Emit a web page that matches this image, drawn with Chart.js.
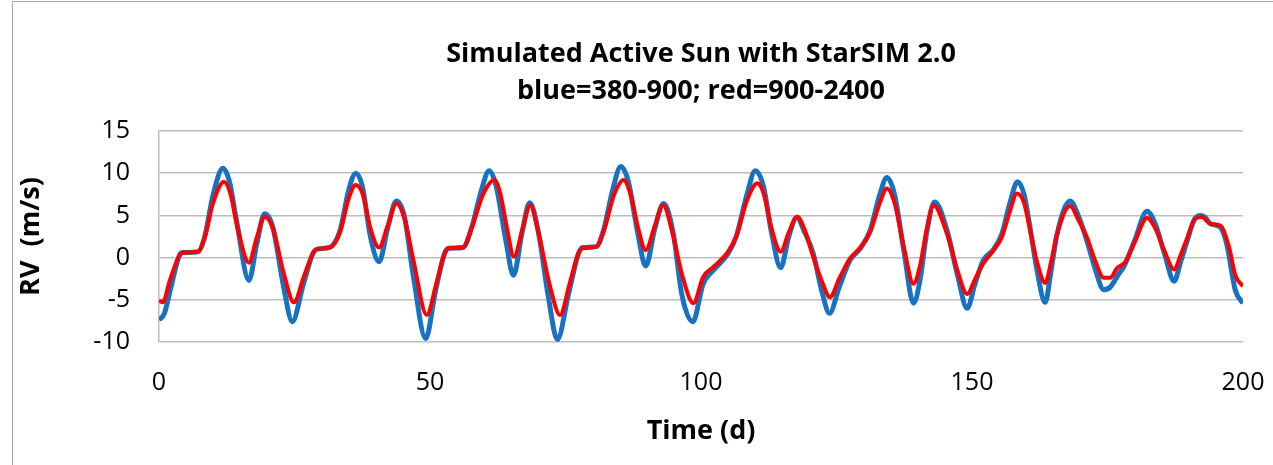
<!DOCTYPE html>
<html>
<head>
<meta charset="utf-8">
<script src="https://cdn.jsdelivr.net/npm/chart.js@4.4.1/dist/chart.umd.min.js"></script>
<style>
  html, body { margin: 0; padding: 0; background: #fff; }
  #wrap { width: 1273px; height: 465px; }
</style>
</head>
<body>
<div id="wrap"><canvas id="rvChart" width="1273" height="465"></canvas></div>
<script>
// chart text
const titleLines = ['Simulated Active Sun with StarSIM 2.0', 'blue=380-900; red=900-2400'];
const xTitle = 'Time (d)';
const yTitle = 'RV  (m/s)';
const xTicks = [0, 50, 100, 150, 200];
const yTicks = [-10, -5, 0, 5, 10, 15];

// blue = 380-900 nm
const blueTime = [0, 1, 2.2, 3.8, 4.5, 7.2, 8.4, 10, 11.8, 13, 14.3, 16.6, 18, 19.5, 21, 23, 24.6, 26.5, 28.4, 29.2,
    31.5, 33.4, 35, 36.3, 37.5, 39, 40.6, 42.2, 43.8, 45.3, 47, 49.2, 51, 52.7, 53.5, 56.1, 57.7, 59.5, 60.9, 62.2,
    64, 65.4, 67, 68.4, 70, 71.8, 73.5, 75.5, 77.4, 78.2, 80.7, 82, 83.7, 85.2, 86.6, 88.3, 89.8, 91.5, 93.1, 94.9,
    96.5, 98.5, 100.4, 102.3, 105, 106.5, 108.5, 110, 111.5, 113, 114.7, 116.2, 117.7, 119, 120.7, 122.3, 123.7, 125.5, 127.5, 129.4,
    131.2, 133, 134.3, 135.7, 137.5, 139.2, 140.4, 141.7, 143.1, 145.4, 147.3, 149.1, 150.6, 152.1, 153.9, 155.5, 157, 158.4, 159.6, 160.8,
    162, 163.5, 164.6, 165.7, 168.1, 169.6, 171.2, 172.8, 174.3, 175.5, 177, 178, 180, 182.3, 183.8, 185.5, 187.3, 188.5, 189.7, 191,
    192.1, 193, 194, 195.8, 197, 198.6, 200];
const blueRV = [-7.4, -6.6, -3.5, 0.3, 0.6, 0.7, 2.4, 7.5, 10.6, 9.0, 4.4, -2.7, 1.5, 5.2, 3.6, -3.5, -7.6, -3.5, 0.5, 1.0,
    1.2, 3.2, 8.0, 10.0, 8.5, 2.5, -0.5, 3.5, 6.7, 4.8, -2.5, -9.6, -4.0, 0.5, 1.1, 1.2, 3.6, 8.0, 10.3, 8.5,
    2.0, -2.1, 3.0, 6.5, 3.0, -4.5, -9.7, -4.5, 0.5, 1.2, 1.3, 3.2, 8.0, 10.8, 9.0, 3.0, -1.0, 3.5, 6.4, 2.8,
    -4.5, -7.6, -3.1, -1.5, 0.5, 2.5, 7.5, 10.3, 8.5, 3.0, -1.2, 2.5, 4.8, 3.2, 0.5, -4.0, -6.6, -3.5, -0.3, 1.1,
    3.2, 7.5, 9.5, 7.5, 0.5, -5.4, -2.7, 3.2, 6.6, 3.2, -2.0, -6.0, -3.0, -0.3, 0.9, 2.8, 6.5, 9.0, 7.5, 3.2,
    -1.5, -5.3, -1.5, 2.8, 6.7, 5.0, 2.0, -1.5, -3.8, -3.5, -2.0, -1.1, 2.0, 5.5, 4.0, 0.5, -2.8, -0.5, 2.0, 4.5,
    5.0, 4.8, 4.0, 3.6, 1.6, -3.9, -5.4];

// red = 900-2400 nm
const redTime = [0, 0.7, 2, 3.8, 4.5, 7.2, 8.4, 10, 12, 13.2, 14.5, 16.6, 18, 19.5, 21, 23, 24.9, 26.7, 28.4, 29.2,
    31.5, 33.4, 35, 36.3, 37.6, 39, 40.6, 42.2, 43.8, 45.3, 47, 49.4, 51.2, 52.7, 53.5, 56.1, 57.7, 59.8, 61.9, 63,
    64.2, 65.5, 67, 68.5, 70, 72, 74, 75.8, 77.4, 78.2, 80.7, 82, 84, 85.7, 87, 88.4, 89.8, 91.5, 93, 94.9,
    96.5, 98.6, 100.4, 102.3, 105, 106.5, 108.5, 110.4, 111.6, 113, 114.7, 116.2, 117.8, 119, 120.7, 122.3, 123.8, 125.5, 127.5, 129.4,
    131.2, 133, 134.3, 135.7, 137.5, 139.2, 140.4, 141.7, 142.9, 145.4, 147.3, 149.1, 150.6, 152.1, 153.9, 155.5, 157, 158.3, 159.6, 160.8,
    162, 163.5, 164.6, 165.7, 168.1, 169.6, 171.2, 172.8, 174.3, 175.5, 176.7, 178.3, 180, 182.3, 183.8, 185.5, 187.3, 188.5, 189.7, 191.2,
    192.4, 194, 195.8, 197.4, 198.6, 200];
const redRV = [-5.1, -5.3, -2.7, 0.3, 0.6, 0.7, 2.3, 6.5, 9.0, 7.5, 3.5, -0.6, 2.3, 4.8, 3.5, -1.8, -5.3, -2.3, 0.5, 1.0,
    1.2, 3.0, 7.0, 8.6, 7.5, 3.5, 1.2, 3.8, 6.4, 4.6, -0.5, -6.8, -3.0, 0.5, 1.1, 1.2, 3.5, 7.5, 9.2, 7.5,
    3.5, 0.1, 3.2, 6.2, 3.0, -3.0, -6.8, -3.0, 0.5, 1.1, 1.3, 3.0, 7.5, 9.2, 7.5, 3.5, 0.9, 3.8, 6.2, 2.5,
    -2.0, -5.4, -2.3, -1.1, 0.7, 2.5, 6.8, 8.8, 7.5, 3.5, 0.7, 3.0, 4.8, 3.5, 0.1, -2.8, -4.7, -2.5, -0.1, 1.2,
    3.0, 6.5, 8.2, 6.5, 1.0, -3.1, -1.0, 3.5, 6.2, 2.8, -1.5, -4.3, -2.5, -0.7, 0.8, 2.4, 5.5, 7.6, 6.5, 3.0,
    -0.5, -3.0, -0.5, 2.8, 6.1, 4.5, 2.4, -0.5, -2.4, -2.4, -1.3, -0.5, 1.8, 4.7, 3.5, 0.8, -1.4, 0.3, 2.3, 4.6,
    4.8, 4.0, 3.8, 1.3, -2.1, -3.4];

function toPoints(xs, ys) {
    return xs.map((x, i) => ({x: x, y: ys[i]}));
}

const gridGray = '#bdbdbd';

// title is centred over the plot area, not the canvas
const plotTitle = {
    id: 'plotTitle',
    afterDraw(chart) {
        const ctx = chart.ctx;
        const area = chart.chartArea;
        const cx = (area.left + area.right) / 2;
        ctx.save();
        ctx.fillStyle = '#000';
        ctx.font = 'bold 27px "Open Sans"';
        ctx.textAlign = 'center';
        ctx.textBaseline = 'alphabetic';
        ctx.fillText(titleLines[0], cx, 62);
        ctx.fillText(titleLines[1], cx, 99);
        ctx.restore();
    }
};

// thin frame at the top and left edges
const frame = {
    id: 'frame',
    beforeDraw(chart) {
        const ctx = chart.ctx;
        ctx.save();
        ctx.strokeStyle = '#a6a6a6';
        ctx.lineWidth = 1;
        ctx.beginPath();
        ctx.moveTo(12.5, chart.height);
        ctx.lineTo(12.5, 1.5);
        ctx.lineTo(chart.width, 1.5);
        ctx.stroke();
        ctx.restore();
    }
};

var ctx = document.getElementById('rvChart').getContext('2d');
new Chart(ctx, {
    type: 'line',
    data: {
        datasets: [
            {
                label: 'red=900-2400',
                data: toPoints(redTime, redRV),
                borderColor: '#ff0000',
                borderWidth: 4,
                pointRadius: 0,
                cubicInterpolationMode: 'monotone',
                fill: false
            },
            {
                label: 'blue=380-900',
                data: toPoints(blueTime, blueRV),
                borderColor: '#1772c2',
                borderWidth: 5,
                pointRadius: 0,
                cubicInterpolationMode: 'monotone',
                fill: false
            }
        ]
    },
    options: {
        responsive: false,
        animation: false,
        layout: {
            padding: {left: 10, right: 30, top: 131, bottom: 0}
        },
        plugins: {
            legend: {display: false},
            title: {display: false},
            tooltip: {enabled: false}
        },
        scales: {
            x: {
                type: 'linear',
                min: 0,
                max: 200,
                afterBuildTicks: (scale) => { scale.ticks = xTicks.map(v => ({value: v})); },
                afterFit: (scale) => {
                    scale.height = 123;
                    scale.paddingLeft = 0;
                    scale.paddingRight = 0;
                },
                grid: {display: false, drawTicks: false},
                border: {display: false},
                ticks: {
                    color: '#000',
                    font: {family: 'Open Sans', size: 25},
                    padding: 26,
                    maxRotation: 0
                },
                title: {
                    display: true,
                    text: xTitle,
                    color: '#000',
                    font: {family: 'Open Sans', size: 27, weight: 'bold'},
                    padding: {top: 0, bottom: 17}
                }
            },
            y: {
                min: -10,
                max: 15,
                afterBuildTicks: (scale) => { scale.ticks = yTicks.map(v => ({value: v})); },
                afterFit: (scale) => { scale.width = 149; },
                grid: {color: gridGray, lineWidth: 1.5, drawTicks: false},
                border: {display: true, color: gridGray, width: 1.5},
                ticks: {
                    color: '#000',
                    font: {family: 'Open Sans', size: 25},
                    padding: 29
                },
                title: {
                    display: true,
                    text: yTitle,
                    color: '#000',
                    font: {family: 'Open Sans', size: 27, weight: 'bold'},
                    padding: {top: 5, bottom: 0}
                }
            }
        }
    },
    plugins: [frame, plotTitle]
});
</script>
</body>
</html>
